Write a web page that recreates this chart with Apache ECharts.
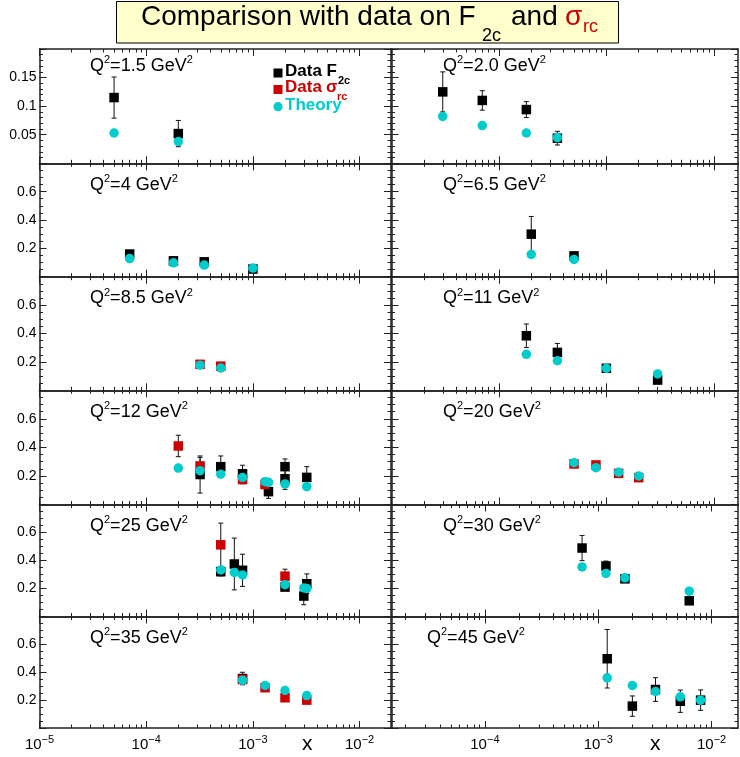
<!DOCTYPE html>
<html>
<head>
<meta charset="utf-8">
<script src="https://cdn.jsdelivr.net/npm/echarts@6/dist/echarts.min.js"></script>
<style>
  html, body { margin: 0; padding: 0; background: #fff; }
  #main { width: 740px; height: 757px; }
</style>
</head>
<body>
<div id="main"></div>
<script>
// Q^2 value of every panel, row by row (left, right)
const q2Labels = ['1.5', '2.0', '4', '6.5', '8.5', '11', '12', '20', '25', '30', '35', '45'];

// data points: [x, value, error]; theory: [x, value]
const f2c_1p5 = [[5e-5, 0.115, 0.036], [2e-4, 0.052, 0.023]];
const th_1p5 = [[5e-5, 0.053], [2e-4, 0.038]];

const f2c_2p0 = [[3e-5, 0.125, 0.035], [7e-5, 0.110, 0.017], [1.8e-4, 0.094, 0.014], [3.5e-4, 0.044, 0.012]];
const th_2p0 = [[3e-5, 0.082], [7e-5, 0.066], [1.8e-4, 0.053], [3.5e-4, 0.045]];

const f2c_4 = [[7e-5, 0.160, 0.012], [1.8e-4, 0.112, 0.010], [3.5e-4, 0.105, 0.010], [1e-3, 0.054, 0.008]];
const th_4 = [[7e-5, 0.128], [1.8e-4, 0.098], [3.5e-4, 0.082], [1e-3, 0.061]];

const f2c_6p5 = [[2e-4, 0.300, 0.125], [5e-4, 0.147, 0.015]];
const th_6p5 = [[2e-4, 0.157], [5e-4, 0.122]];

const sig_8p5 = [[3.2e-4, 0.183, 0.012], [5e-4, 0.170, 0.012]];
const th_8p5 = [[3.2e-4, 0.177], [5e-4, 0.157]];

const f2c_11 = [[1.8e-4, 0.384, 0.083], [3.5e-4, 0.267, 0.063], [1e-3, 0.155, 0.015], [3e-3, 0.072, 0.015]];
const th_11 = [[1.8e-4, 0.253], [3.5e-4, 0.208], [1e-3, 0.155], [3e-3, 0.115]];

const f2c_12 = [[3.2e-4, 0.21, 0.13], [5e-4, 0.265, 0.075], [8e-4, 0.215, 0.06], [1.4e-3, 0.09, 0.047],
                [2e-3, 0.265, 0.054], [2e-3, 0.18, 0.074], [3.2e-3, 0.19, 0.075]];
const sig_12 = [[2e-4, 0.41, 0.075], [3.2e-4, 0.27, 0.06], [8e-4, 0.175, 0.03], [1.3e-3, 0.14, 0.03]];
const th_12 = [[2e-4, 0.255], [3.2e-4, 0.237], [5e-4, 0.212], [8e-4, 0.19], [1.3e-3, 0.16],
               [1.4e-3, 0.155], [2e-3, 0.144], [3.2e-3, 0.125]];

const sig_20 = [[5e-4, 0.284, 0.025], [8e-4, 0.277, 0.015], [1.3e-3, 0.218, 0.015], [2e-3, 0.188, 0.015]];
const th_20 = [[5e-4, 0.293], [8e-4, 0.258], [1.3e-3, 0.226], [2e-3, 0.200]];

const f2c_25 = [[5e-4, 0.32, 0.03], [6.7e-4, 0.375, 0.185], [8e-4, 0.33, 0.115], [2e-3, 0.21, 0.02],
                [3e-3, 0.146, 0.062], [3.2e-3, 0.234, 0.07]];
const sig_25 = [[5e-4, 0.512, 0.155], [2e-3, 0.288, 0.05]];
const th_25 = [[5e-4, 0.333], [6.7e-4, 0.315], [8e-4, 0.297], [2e-3, 0.227], [3e-3, 0.204], [3.2e-3, 0.200]];

const f2c_30 = [[7.2e-4, 0.489, 0.09], [1.17e-3, 0.361, 0.035], [1.72e-3, 0.269, 0.015], [6.35e-3, 0.112, 0.015]];
const th_30 = [[7.2e-4, 0.354], [1.17e-3, 0.308], [1.72e-3, 0.276], [6.35e-3, 0.181]];

const f2c_35 = [[8e-4, 0.355, 0.045]];
const sig_35 = [[8e-4, 0.348, 0.02], [1.3e-3, 0.289, 0.015], [2e-3, 0.217, 0.015], [3.2e-3, 0.200, 0.015]];
const th_35 = [[8e-4, 0.343], [1.3e-3, 0.305], [2e-3, 0.269], [3.2e-3, 0.233]];

const f2c_45 = [[1.2e-3, 0.497, 0.21], [2e-3, 0.157, 0.073], [3.2e-3, 0.276, 0.085], [5.3e-3, 0.192, 0.08], [8e-3, 0.200, 0.073]];
const th_45 = [[1.2e-3, 0.360], [2e-3, 0.305], [3.2e-3, 0.262], [5.3e-3, 0.224], [8e-3, 0.200]];

// axis ticks
const majorX = [1e-5, 1e-4, 1e-3, 1e-2];
const minorX = [];
for (let d = -5; d <= -2; d++) for (let k = 2; k <= 9; k++) minorX.push(k * Math.pow(10, d));

const panels = [
  { f2c: f2c_1p5, sig: [], th: th_1p5 },
  { f2c: f2c_2p0, sig: [], th: th_2p0 },
  { f2c: f2c_4, sig: [], th: th_4 },
  { f2c: f2c_6p5, sig: [], th: th_6p5 },
  { f2c: [], sig: sig_8p5, th: th_8p5 },
  { f2c: f2c_11, sig: [], th: th_11 },
  { f2c: f2c_12, sig: sig_12, th: th_12 },
  { f2c: [], sig: sig_20, th: th_20 },
  { f2c: f2c_25, sig: sig_25, th: th_25 },
  { f2c: f2c_30, sig: [], th: th_30 },
  { f2c: f2c_35, sig: sig_35, th: th_35 },
  { f2c: f2c_45, sig: [], th: th_45 }
];

// layout (pixels)
const FONT = 'Liberation Sans, Arial, Helvetica, sans-serif';
const RED = '#cc0000', CYAN = '#00cccc', AXIS = '#222';
const rowTop = [49, 163.3, 276.7, 390.3, 504.5, 616.5];
const rowBottom = [163.3, 276.7, 390.3, 504.5, 616.5, 728];
const colLeft = [39.5, 391.5];
const colRight = [391, 738];
const xRangeLeft = [1e-5, 0.0197];
const xRangeRightUp = [1e-5, 0.0168];
const xRangeRightLow = [1.5e-5, 0.0171];

function renderErrorBar(params, api) {
  const x = api.value(0), y = api.value(1), e = api.value(2);
  const hi = api.coord([x, y + e]);
  const lo = api.coord([x, y - e]);
  const w = 2.5;
  const st = { stroke: '#111', lineWidth: 1 };
  return {
    type: 'group',
    children: [
      { type: 'line', shape: { x1: hi[0], y1: hi[1], x2: lo[0], y2: lo[1] }, style: st },
      { type: 'line', shape: { x1: hi[0] - w, y1: hi[1], x2: hi[0] + w, y2: hi[1] }, style: st },
      { type: 'line', shape: { x1: lo[0] - w, y1: lo[1], x2: lo[0] + w, y2: lo[1] }, style: st }
    ]
  };
}

const grids = [], xAxes = [], yAxes = [], series = [], graphics = [];

panels.forEach(function (p, i) {
  const row = Math.floor(i / 2), col = i % 2;
  grids.push({
    left: colLeft[col], top: rowTop[row],
    width: colRight[col] - colLeft[col], height: rowBottom[row] - rowTop[row],
    containLabel: false, outerBoundsMode: 'none'
  });
  const xr = col === 0 ? xRangeLeft : (row < 4 ? xRangeRightUp : xRangeRightLow);
  ['bottom', 'top'].forEach(function (pos) {
    xAxes.push({
      gridIndex: i, type: 'log', logBase: 10, min: xr[0], max: xr[1], position: pos,
      axisLine: { show: true, lineStyle: { color: AXIS, width: 1.5 } },
      axisTick: { show: true, inside: true, length: 7, customValues: majorX, lineStyle: { color: AXIS } },
      axisLabel: {
        show: pos === 'bottom' && row === 5, customValues: majorX, margin: 6,
        formatter: function (v) { return '{b|10}{s|\u2212' + Math.round(-Math.log10(v)) + '}'; },
        rich: {
          b: { fontSize: 15, lineHeight: 21, fontFamily: FONT, color: '#000' },
          s: { fontSize: 11, lineHeight: 11, verticalAlign: 'top', fontFamily: FONT, color: '#000' }
        }
      },
      splitLine: { show: false }, minorTick: { show: false }
    });
    xAxes.push({
      gridIndex: i, type: 'log', logBase: 10, min: xr[0], max: xr[1], position: pos,
      axisLine: { show: false },
      axisTick: { show: true, inside: true, length: 3.5, customValues: minorX, lineStyle: { color: AXIS } },
      axisLabel: { show: false },
      splitLine: { show: false }, minorTick: { show: false }
    });
  });
  const ymax = row === 0 ? 0.2 : 0.8;
  ['left', 'right'].forEach(function (pos) {
    yAxes.push({
      gridIndex: i, type: 'value', min: 0, max: ymax, interval: row === 0 ? 0.05 : 0.2, position: pos,
      axisLine: { show: true, lineStyle: { color: AXIS, width: 1.5 } },
      axisTick: { show: true, inside: true, length: 7, lineStyle: { color: AXIS } },
      minorTick: { show: true, splitNumber: row === 0 ? 5 : 4, length: 3.5, lineStyle: { color: AXIS } },
      splitLine: { show: false },
      axisLabel: {
        show: pos === 'left' && col === 0, showMinLabel: false, showMaxLabel: false,
        fontSize: 14, fontFamily: FONT, color: '#000', margin: 3
      }
    });
  });

  const xi = i * 4, yi = i * 2;
  series.push({
    type: 'custom', xAxisIndex: xi, yAxisIndex: yi, renderItem: renderErrorBar,
    data: p.f2c.concat(p.sig), z: 1, silent: true
  });
  series.push({
    type: 'scatter', name: 'Data F2c', xAxisIndex: xi, yAxisIndex: yi, symbol: 'rect', symbolSize: 9.5,
    itemStyle: { color: '#000', opacity: 1 }, data: p.f2c.map(function (d) { return [d[0], d[1]]; }), z: 2, silent: true
  });
  series.push({
    type: 'scatter', name: 'Data sigma', xAxisIndex: xi, yAxisIndex: yi, symbol: 'rect', symbolSize: 9.5,
    itemStyle: { color: RED, opacity: 1 }, data: p.sig.map(function (d) { return [d[0], d[1]]; }), z: 2, silent: true
  });
  series.push({
    type: 'scatter', name: 'Theory', xAxisIndex: xi, yAxisIndex: yi, symbol: 'circle', symbolSize: 9.5,
    itemStyle: { color: CYAN, opacity: 1 }, data: p.th, z: 3, silent: true
  });

  // Q^2 label
  const lx = col === 0 ? 90 : (row === 5 ? 427 : 443);
  const base = row === 0 ? 72 : rowTop[row] + 27.5;
  graphics.push({
    type: 'text', x: lx, y: base - 17.2, z: 10,
    style: {
      text: '{b|Q}{s|2}{b|=' + q2Labels[i] + ' GeV}{s|2}', verticalAlign: 'top', align: 'left',
      rich: {
        b: { fontSize: 18, lineHeight: 22, fontFamily: FONT, fill: '#000' },
        s: { fontSize: 11, lineHeight: 11, verticalAlign: 'top', fontFamily: FONT, fill: '#000' }
      }
    }
  });
});

// plain text placed by its baseline
function txt(x, baseline, str, fs, color, weight) {
  return {
    type: 'text', x: x, y: baseline - 0.3465 * fs, z: 10,
    style: { text: str, fontSize: fs, fontFamily: FONT, fontWeight: weight || 'normal',
             fill: color, verticalAlign: 'middle', align: 'left' }
  };
}

// title box
graphics.push({ type: 'rect', z: 9, shape: { x: 116.5, y: 1.5, width: 502, height: 41.5 },
                style: { fill: '#ffffcc', stroke: '#000', lineWidth: 1 } });
graphics.push(txt(141, 27, 'Comparison with data on F', 28, '#000'));
graphics.push(txt(482, 42, '2c', 18, '#000'));
graphics.push(txt(511, 27, 'and', 28, '#000'));
graphics.push(txt(565, 27, '\u03c3', 28, RED));
graphics.push(txt(583, 33, 'rc', 18, RED));

// legend
graphics.push({ type: 'rect', z: 10, shape: { x: 273.5, y: 68.5, width: 9, height: 9 }, style: { fill: '#000' } });
graphics.push(txt(285, 77.3, 'Data F', 17, '#000', 'bold'));
graphics.push(txt(338, 85, '2c', 11, '#000', 'bold'));
graphics.push({ type: 'rect', z: 10, shape: { x: 273.5, y: 85, width: 9, height: 9 }, style: { fill: RED } });
graphics.push(txt(285, 93.3, 'Data ', 17, RED, 'bold'));
graphics.push(txt(326, 93.3, '\u03c3', 17, RED, 'bold'));
graphics.push(txt(337, 101, 'rc', 11, RED, 'bold'));
graphics.push({ type: 'circle', z: 10, shape: { cx: 278, cy: 106.7, r: 4.6 }, style: { fill: CYAN } });
graphics.push(txt(285, 111.7, 'Theory', 17, CYAN, 'bold'));

// x axis titles
graphics.push(txt(302, 751, 'x', 21, '#000'));
graphics.push(txt(650, 751, 'x', 21, '#000'));

const chart = echarts.init(document.getElementById('main'), null, { renderer: 'canvas' });
chart.setOption({
  animation: false,
  backgroundColor: '#fff',
  grid: grids,
  xAxis: xAxes,
  yAxis: yAxes,
  series: series,
  graphic: graphics
});
</script>
</body>
</html>
